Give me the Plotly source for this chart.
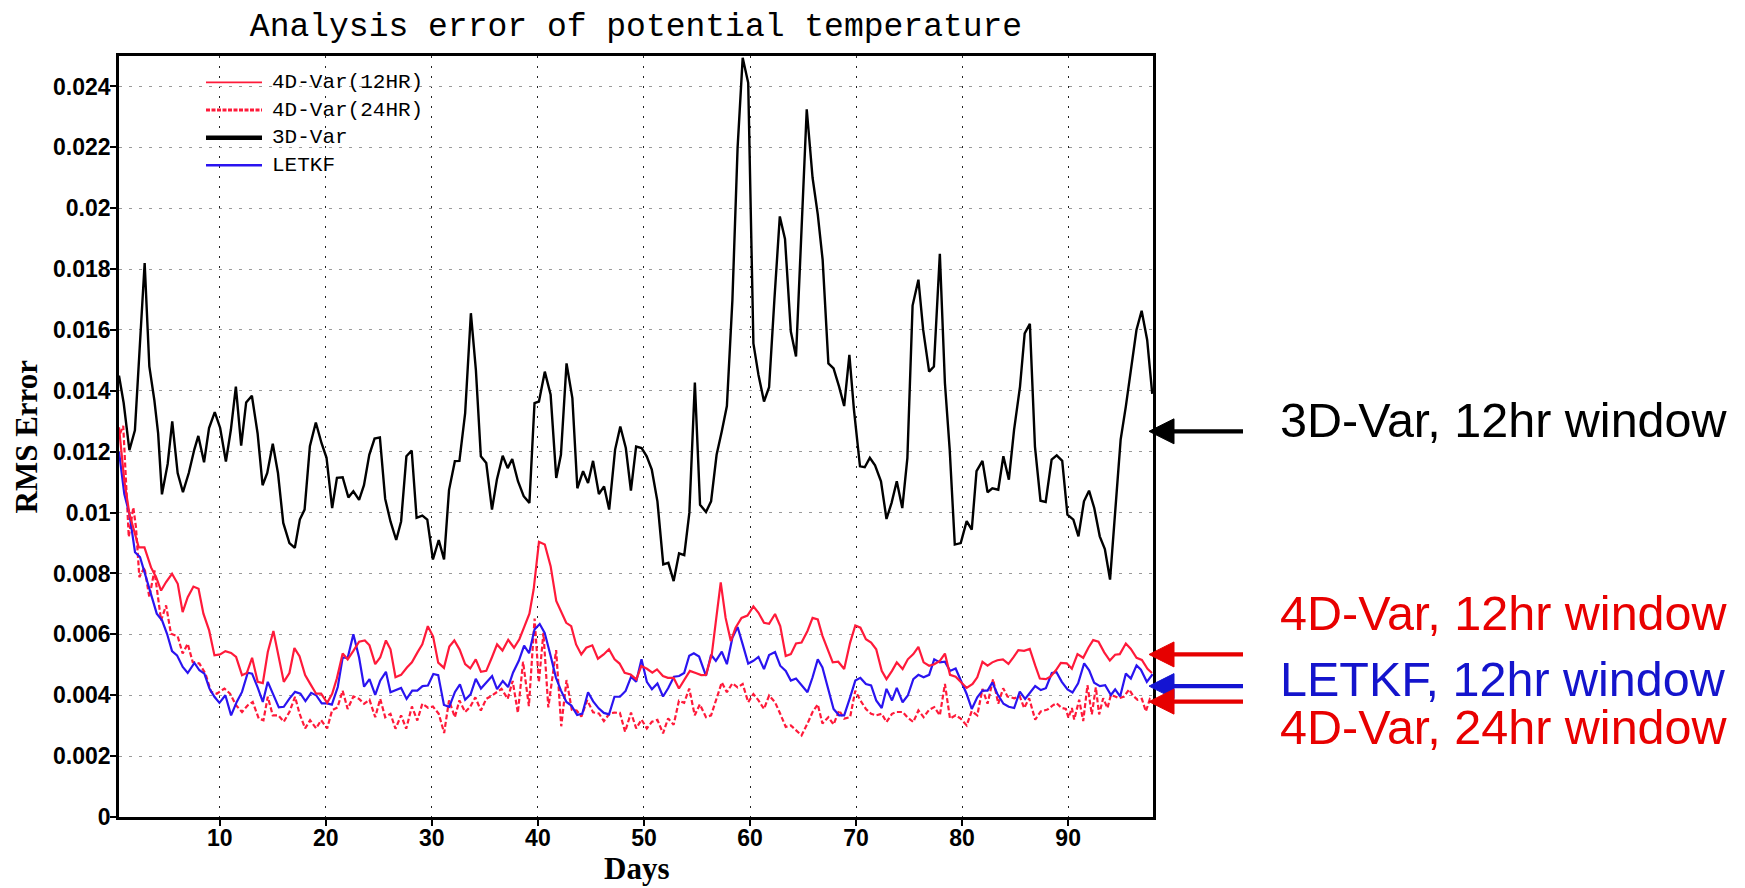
import plotly.graph_objects as go

# ---------------- data ----------------
title_text = "Analysis error of potential temperature"
x_label = "Days"
y_label = "RMS Error"

x_tick_vals = [10, 20, 30, 40, 50, 60, 70, 80, 90]
y_tick_vals = [0, 0.002, 0.004, 0.006, 0.008, 0.01, 0.012, 0.014, 0.016, 0.018, 0.02, 0.022, 0.024]
y_tick_text = ["0", "0.002", "0.004", "0.006", "0.008", "0.01", "0.012", "0.014",
               "0.016", "0.018", "0.02", "0.022", "0.024"]
x_range = [0.5, 98]
y_range = [0, 0.025]

var3d_days = [0.5, 0.94, 1.48, 2.0, 2.45, 2.92, 3.36, 3.83, 4.19, 4.55, 5.09, 5.52, 6.03, 6.53, 7.08,
              7.6, 7.98, 8.52, 8.99, 9.53, 10.04, 10.58, 11.05, 11.52, 12.02, 12.49, 13.03, 13.57,
              14.04, 14.48, 15.0, 15.49, 15.99, 16.57, 17.08, 17.55, 18.0, 18.5, 19.06, 19.6, 20.07,
              20.6, 21.05, 21.59, 22.13, 22.6, 23.14, 23.6, 24.1, 24.6, 25.1, 25.6, 26.1, 26.64,
              27.1, 27.6, 28.1, 28.56, 29.1, 29.57, 30.1, 30.65, 31.15, 31.62, 32.17, 32.6, 33.14,
              33.68, 34.15, 34.62, 35.13, 35.67, 36.14, 36.68, 37.15, 37.58, 38.12, 38.66, 39.2,
              39.68, 40.1, 40.65, 41.2, 41.73, 42.17, 42.7, 43.25, 43.72, 44.26, 44.73, 45.2, 45.75,
              46.24, 46.72, 47.28, 47.77, 48.29, 48.77, 49.26, 49.78, 50.26, 50.74, 51.27, 51.82,
              52.3, 52.8, 53.31, 53.8, 54.28, 54.8, 55.29, 55.85, 56.33, 56.85, 57.34, 57.82, 58.34,
              58.83, 59.31, 59.83, 60.32, 60.8, 61.32, 61.8, 62.3, 62.81, 63.3, 63.85, 64.34, 65.35,
              65.9, 66.39, 66.85, 67.39, 67.88, 68.4, 68.88, 69.37, 69.8, 70.37, 70.82, 71.3, 71.79,
              72.35, 72.87, 73.35, 73.84, 74.36, 74.84, 75.33, 75.88, 76.33, 76.89, 77.34, 77.9,
              78.38, 78.83, 79.31, 79.87, 80.43, 80.91, 81.36, 81.92, 82.4, 82.85, 83.41, 83.89,
              84.41, 84.9, 85.46, 85.9, 86.39, 86.87, 87.39, 87.88, 88.44, 88.92, 89.44, 89.93,
              90.49, 90.97, 91.49, 91.97, 92.46, 92.98, 93.46, 93.95, 94.47, 94.95, 95.44, 95.96,
              96.44, 96.93, 97.45, 97.93]
var3d_rms = [0.0145, 0.0136, 0.01205, 0.0127, 0.0154, 0.0182, 0.0148, 0.0137, 0.0126, 0.0106,
             0.0116, 0.0130, 0.0113, 0.01067, 0.0113, 0.01207, 0.01252, 0.01165, 0.01278, 0.0133,
             0.01278, 0.01168, 0.01272, 0.01414, 0.0122, 0.01362, 0.01384, 0.0126, 0.0109, 0.0113,
             0.01226, 0.0113, 0.00966, 0.0090, 0.00884, 0.00977, 0.0101, 0.01218, 0.01296, 0.01228,
             0.0118, 0.01015, 0.01114, 0.01116, 0.0105, 0.0107, 0.01042, 0.0109, 0.0119, 0.01243,
             0.01247, 0.01045, 0.00971, 0.0091, 0.00971, 0.01185, 0.01204, 0.00983, 0.0099, 0.00977,
             0.00846, 0.0091, 0.00846, 0.01074, 0.01169, 0.0117, 0.01327, 0.01655, 0.0147, 0.01185,
             0.01163, 0.0101, 0.0111, 0.01187, 0.01146, 0.01176, 0.01103, 0.01054, 0.01032, 0.0136,
             0.01365, 0.01463, 0.01387, 0.01114, 0.0119, 0.0149, 0.01376, 0.0108, 0.01136, 0.01097,
             0.0117, 0.01061, 0.01086, 0.0101, 0.01207, 0.01283, 0.01212, 0.01072, 0.01217, 0.01212,
             0.01185, 0.01141, 0.01037, 0.0083, 0.00835, 0.00775, 0.00866, 0.0086, 0.00999, 0.01427,
             0.01026, 0.01002, 0.01037, 0.0119, 0.01267, 0.0135, 0.01698, 0.02199, 0.02494, 0.02412,
             0.01556, 0.01452, 0.01365, 0.01412, 0.0170, 0.01973, 0.01899, 0.01595, 0.01513, 0.02325,
             0.0210, 0.0198, 0.0183, 0.0149, 0.01474, 0.01414, 0.0135, 0.01518, 0.01338, 0.01152,
             0.01149, 0.0118, 0.01155, 0.01103, 0.00979, 0.01032, 0.01103, 0.01015, 0.0118, 0.0168,
             0.01765, 0.0160, 0.01463, 0.0148, 0.0185, 0.01425, 0.01207, 0.00895, 0.0090, 0.00972,
             0.00944, 0.01136, 0.0117, 0.01067, 0.0108, 0.01075, 0.01185, 0.01108, 0.01272, 0.01414,
             0.01589, 0.0162, 0.01217, 0.01039, 0.01035, 0.01174, 0.01188, 0.0117, 0.00993, 0.00977,
             0.00922, 0.01037, 0.01072, 0.01015, 0.00922, 0.0088, 0.0078, 0.0101, 0.0124, 0.01349,
             0.0148, 0.0160, 0.01663, 0.01567, 0.0139]

var4d12_days = [0.5, 1.0, 1.48, 1.95, 2.36, 2.9, 3.52, 4.0, 4.47, 4.94, 5.5, 6.04, 6.5, 6.98, 7.52,
                8.0, 8.46, 9.0, 9.5, 10.03, 10.53, 11.07, 11.54, 12.1, 12.55, 13.05, 13.58, 14.06,
                14.53, 15.06, 15.53, 16.04, 16.57, 17.04, 17.52, 18.05, 18.52, 19.09, 19.56, 20.13,
                20.6, 21.04, 21.59, 22.06, 22.6, 23.14, 23.68, 24.12, 24.66, 25.13, 25.67, 26.1,
                26.57, 27.1, 27.65, 28.12, 28.63, 29.1, 29.62, 30.12, 30.6, 31.14, 31.65, 32.12,
                32.62, 33.14, 33.62, 34.14, 34.63, 35.13, 35.65, 36.15, 36.66, 37.2, 37.75, 38.25,
                38.74, 39.2, 39.6, 40.1, 40.65, 41.2, 41.73, 42.2, 42.67, 43.14, 43.6, 44.09, 44.56,
                45.13, 45.66, 46.2, 46.7, 47.23, 47.7, 48.18, 48.74, 49.28, 49.75, 50.28, 50.79,
                51.23, 51.79, 52.26, 52.8, 53.3, 53.8, 54.33, 54.88, 55.4, 55.85, 56.4, 56.78, 57.24,
                57.7, 58.19, 58.64, 59.2, 59.76, 60.32, 60.8, 61.32, 61.8, 62.36, 62.85, 63.37, 63.85,
                64.34, 64.86, 65.42, 65.9, 66.39, 66.83, 67.32, 67.8, 68.32, 68.88, 69.44, 69.93,
                70.41, 70.93, 71.42, 71.9, 72.42, 72.87, 73.39, 73.84, 74.39, 74.88, 75.4, 75.88,
                76.37, 76.89, 77.37, 77.9, 78.38, 78.86, 79.39, 79.87, 80.43, 80.99, 81.43, 81.92,
                82.4, 82.85, 83.33, 83.85, 84.37, 84.85, 85.3, 85.85, 86.38, 86.89, 87.33, 87.9,
                88.36, 88.84, 89.31, 89.87, 90.35, 90.88, 91.42, 91.92, 92.36, 92.86, 93.4, 93.93,
                94.43, 94.87, 95.44, 95.91, 96.45, 96.95, 97.48, 97.9]
var4d12_rms = [0.0128, 0.01105, 0.00996, 0.0094, 0.00886, 0.00886, 0.0082, 0.00788, 0.00744,
               0.00772, 0.00799, 0.00766, 0.00673, 0.00722, 0.00757, 0.0075, 0.00668, 0.00613,
               0.00531, 0.00534, 0.00545, 0.00539, 0.00526, 0.00466, 0.00473, 0.00523, 0.00444,
               0.0044, 0.00542, 0.00611, 0.00526, 0.00444, 0.00473, 0.00555, 0.00528, 0.00466,
               0.00438, 0.00405, 0.00405, 0.00375, 0.00405, 0.00455, 0.00537, 0.00518, 0.00546,
               0.00576, 0.0058, 0.00564, 0.00502, 0.00524, 0.0058, 0.00551, 0.00459, 0.00467,
               0.00491, 0.00508, 0.0054, 0.00567, 0.00627, 0.00593, 0.00507, 0.0049, 0.0056, 0.0058,
               0.0055, 0.00502, 0.00488, 0.00518, 0.00477, 0.0048, 0.00523, 0.00567, 0.00547,
               0.00582, 0.00556, 0.00584, 0.00627, 0.00668, 0.00748, 0.00904, 0.00895, 0.00824,
               0.0071, 0.00671, 0.00638, 0.00627, 0.00567, 0.00534, 0.00556, 0.00564, 0.0052,
               0.00534, 0.00551, 0.00518, 0.00504, 0.00474, 0.00468, 0.00452, 0.00496, 0.00487,
               0.00474, 0.00485, 0.00463, 0.00457, 0.00457, 0.00422, 0.0045, 0.0048, 0.00473,
               0.00466, 0.00467, 0.00535, 0.00643, 0.00771, 0.00654, 0.00578, 0.00622, 0.00654,
               0.00662, 0.00692, 0.00671, 0.00638, 0.00635, 0.00667, 0.00627, 0.00529, 0.00535,
               0.0057, 0.00573, 0.00611, 0.00654, 0.00649, 0.00595, 0.00551, 0.00508, 0.0051,
               0.00486, 0.00573, 0.00629, 0.00622, 0.00584, 0.00573, 0.00551, 0.0048, 0.00453,
               0.0048, 0.00508, 0.00486, 0.00518, 0.00535, 0.00559, 0.00508, 0.00497, 0.00502,
               0.00513, 0.00537, 0.00467, 0.00461, 0.00445, 0.00424, 0.00437, 0.00459, 0.0051,
               0.00497, 0.00508, 0.00515, 0.00518, 0.00503, 0.00525, 0.00548, 0.00546, 0.00552,
               0.00498, 0.00455, 0.00453, 0.00462, 0.00482, 0.00506, 0.00505, 0.00487, 0.00535,
               0.00523, 0.00557, 0.00581, 0.00576, 0.00541, 0.00514, 0.00533, 0.00535, 0.0057,
               0.00552, 0.00523, 0.00516, 0.00487, 0.00473]

var4d24_days = [0.6, 0.9, 1.42, 1.85, 2.1, 2.42, 2.9, 3.36, 3.84, 4.47, 4.94, 5.4, 6.04, 6.5, 6.98,
                7.45, 8.08, 8.65, 9.18, 9.72, 10.44, 10.97, 11.54, 12.1, 12.64, 13.11, 13.68, 14.12,
                14.53, 15.0, 15.53, 16.04, 16.57, 17.1, 17.52, 18.05, 18.52, 19.09, 19.56, 20.13,
                20.6, 21.1, 21.59, 22.06, 22.6, 23.14, 23.61, 24.12, 24.66, 25.13, 25.6, 26.1, 26.57,
                27.1, 27.58, 28.12, 28.63, 29.1, 29.64, 30.1, 30.65, 31.16, 31.62, 32.17, 32.6,
                33.14, 33.6, 34.1, 34.62, 35.13, 35.67, 36.14, 36.57, 37.15, 37.62, 38.11, 38.6,
                39.15, 39.69, 40.09, 40.52, 40.98, 41.72, 42.2, 42.7, 43.2, 43.65, 44.1, 44.65, 45.2,
                45.75, 46.22, 46.75, 47.22, 47.73, 48.22, 48.78, 49.27, 49.77, 50.27, 50.75, 51.27,
                51.8, 52.28, 52.8, 53.3, 53.79, 54.27, 54.79, 55.27, 55.85, 56.33, 56.85, 57.34,
                57.82, 58.34, 58.83, 59.31, 59.83, 60.32, 60.8, 61.32, 61.8, 62.36, 62.85, 63.37,
                63.85, 64.34, 64.86, 65.42, 65.9, 66.39, 66.83, 67.39, 67.88, 68.4, 68.88, 69.44,
                69.93, 70.41, 70.93, 71.42, 71.9, 72.42, 72.87, 73.39, 73.84, 74.39, 74.88, 75.4,
                75.88, 76.37, 76.89, 77.37, 77.9, 78.38, 78.86, 79.39, 79.87, 80.43, 80.91, 81.43,
                81.92, 82.4, 82.92, 83.41, 83.87, 84.28, 84.91, 85.44, 85.85, 86.32, 86.89, 87.42,
                88.05, 88.52, 88.9, 89.4, 89.78, 90.03, 90.35, 90.57, 91.04, 91.42, 91.82, 92.23,
                92.61, 92.92, 93.3, 93.71, 94.03, 94.43, 94.81, 95.28, 95.75, 96.13, 96.54, 96.95,
                97.33, 97.7, 97.95]
var4d24_rms = [0.0126, 0.01285, 0.0092, 0.01017, 0.00952, 0.00788, 0.0082, 0.00722, 0.0081,
               0.00646, 0.00695, 0.00602, 0.00593, 0.00537, 0.00569, 0.00509, 0.00504, 0.00471,
               0.00411, 0.00405, 0.00422, 0.00405, 0.00367, 0.00345, 0.00367, 0.00378, 0.00323,
               0.00318, 0.00395, 0.00334, 0.00334, 0.00313, 0.00345, 0.00395, 0.0034, 0.00291,
               0.00318, 0.00291, 0.00318, 0.00291, 0.00351, 0.0036, 0.00415, 0.00355, 0.00396,
               0.00388, 0.00372, 0.00385, 0.00328, 0.00388, 0.00328, 0.00339, 0.0029, 0.00334,
               0.0029, 0.00363, 0.00317, 0.00372, 0.00359, 0.00363, 0.00339, 0.00276, 0.00383,
               0.00328, 0.00383, 0.00345, 0.00361, 0.00393, 0.0035, 0.00388, 0.00399, 0.0041,
               0.00421, 0.00388, 0.00447, 0.00342, 0.0051, 0.00364, 0.00652, 0.00442, 0.00605,
               0.0036, 0.00548, 0.00298, 0.0045, 0.00352, 0.0035, 0.0033, 0.00384, 0.00344, 0.0034,
               0.00315, 0.0034, 0.00343, 0.00342, 0.0028, 0.00343, 0.00291, 0.0032, 0.00291,
               0.00313, 0.00319, 0.00275, 0.00324, 0.00303, 0.00382, 0.00375, 0.00422, 0.00334,
               0.0037, 0.00328, 0.00334, 0.00393, 0.00442, 0.0041, 0.00439, 0.00426, 0.00437,
               0.00377, 0.00404, 0.00383, 0.00355, 0.00399, 0.00377, 0.00339, 0.00296, 0.00301,
               0.00285, 0.00268, 0.00307, 0.00345, 0.0037, 0.00307, 0.00328, 0.00304, 0.0035,
               0.00323, 0.00328, 0.00415, 0.00383, 0.00355, 0.00339, 0.00334, 0.00339, 0.00312,
               0.00339, 0.00345, 0.00345, 0.00326, 0.00312, 0.0035, 0.00328, 0.00352, 0.00361,
               0.00334, 0.00437, 0.00323, 0.00334, 0.00323, 0.00301, 0.00348, 0.00334, 0.00421,
               0.00372, 0.00453, 0.00372, 0.00423, 0.00396, 0.0039, 0.00396, 0.00358, 0.0039,
               0.0032, 0.00347, 0.00353, 0.00366, 0.00374, 0.00358, 0.00355, 0.00326, 0.00358,
               0.0032, 0.00385, 0.00315, 0.00433, 0.00337, 0.00426, 0.00337, 0.0039, 0.00358,
               0.00401, 0.00396, 0.0039, 0.00396, 0.00419, 0.00398, 0.00385, 0.00388, 0.00347,
               0.00387, 0.0038]

letkf_days = [0.5, 1.0, 1.48, 2.01, 2.48, 3.05, 3.58, 4.06, 4.56, 5.03, 5.5, 5.97, 6.51, 6.98,
              7.61, 8.08, 8.55, 9.03, 9.5, 9.97, 10.53, 11.07, 11.6, 12.1, 12.64, 13.05, 13.58,
              14.06, 14.53, 15.06, 15.57, 16.04, 16.57, 17.1, 17.61, 18.08, 18.62, 19.09, 19.62,
              20.13, 20.57, 21.13, 21.59, 22.06, 22.6, 23.14, 23.61, 24.12, 24.66, 25.13, 25.67,
              26.1, 26.57, 27.1, 27.62, 28.15, 28.63, 29.12, 29.63, 30.14, 30.6, 31.14, 31.64,
              32.18, 32.65, 33.14, 33.65, 34.14, 34.63, 35.16, 35.68, 36.15, 36.69, 37.19, 37.66,
              38.2, 38.7, 39.17, 39.68, 40.17, 40.64, 41.18, 41.7, 42.17, 42.69, 43.16, 43.7, 44.19,
              44.73, 45.21, 45.73, 46.22, 46.71, 47.22, 47.73, 48.27, 48.79, 49.27, 49.77, 50.27,
              50.75, 51.27, 51.8, 52.28, 52.83, 53.32, 53.79, 54.27, 54.7, 55.2, 55.85, 56.33,
              56.78, 57.34, 57.82, 58.34, 58.83, 59.31, 59.83, 60.32, 60.8, 61.32, 61.8, 62.36,
              62.85, 63.37, 63.85, 64.34, 64.86, 65.42, 65.9, 66.39, 66.83, 67.39, 67.88, 68.4,
              68.88, 69.44, 69.93, 70.41, 70.93, 71.42, 71.9, 72.42, 72.87, 73.39, 73.84, 74.39,
              74.88, 75.4, 75.88, 76.37, 76.89, 77.37, 77.9, 78.38, 78.86, 79.39, 79.87, 80.43,
              80.91, 81.43, 81.92, 82.4, 82.85, 83.33, 83.9, 84.4, 84.91, 85.44, 85.94, 86.4, 86.89,
              87.42, 87.9, 88.46, 88.9, 89.4, 89.94, 90.41, 90.94, 91.51, 91.98, 92.45, 92.99,
              93.49, 94.03, 94.43, 94.9, 95.44, 95.91, 96.45, 96.86, 97.42, 97.96]
letkf_rms = [0.012, 0.01061, 0.00996, 0.0087, 0.00854, 0.00788, 0.00722, 0.00668, 0.00646,
             0.00602, 0.00545, 0.00531, 0.00493, 0.00473, 0.00506, 0.00482, 0.00471, 0.00422,
             0.00395, 0.00375, 0.004, 0.00334, 0.00378, 0.00411, 0.00474, 0.00471, 0.00425,
             0.00378, 0.00444, 0.004, 0.0036, 0.00362, 0.00389, 0.00411, 0.00405, 0.00381, 0.00408,
             0.004, 0.00373, 0.00373, 0.00369, 0.00427, 0.00524, 0.00522, 0.006, 0.00524, 0.00428,
             0.00453, 0.00401, 0.00448, 0.00477, 0.0041, 0.00417, 0.00424, 0.00388, 0.00415,
             0.00415, 0.0043, 0.00432, 0.0047, 0.00466, 0.00368, 0.00362, 0.00411, 0.00436,
             0.00385, 0.00403, 0.00454, 0.00422, 0.00444, 0.00463, 0.0042, 0.00447, 0.00427,
             0.00475, 0.00513, 0.00563, 0.00538, 0.00616, 0.00634, 0.00605, 0.00532, 0.00458,
             0.00416, 0.00378, 0.00366, 0.00335, 0.0034, 0.0041, 0.0038, 0.00357, 0.00342, 0.00337,
             0.00395, 0.00395, 0.00414, 0.00461, 0.00444, 0.00518, 0.00444, 0.0042, 0.00439,
             0.00396, 0.00423, 0.00461, 0.00463, 0.00473, 0.0053, 0.00538, 0.00527, 0.00464,
             0.00533, 0.00513, 0.00543, 0.00502, 0.00589, 0.00624, 0.00567, 0.00504, 0.00513,
             0.00526, 0.00486, 0.00532, 0.00542, 0.00497, 0.0048, 0.00448, 0.00455, 0.00432,
             0.0041, 0.00459, 0.00518, 0.00491, 0.00421, 0.00355, 0.00334, 0.00334, 0.00393,
             0.00448, 0.00457, 0.00437, 0.00432, 0.00383, 0.00358, 0.00421, 0.00383, 0.00424,
             0.00377, 0.00399, 0.00453, 0.00467, 0.00459, 0.00467, 0.00518, 0.00508, 0.0051,
             0.0048, 0.00488, 0.00448, 0.00404, 0.00355, 0.00393, 0.00415, 0.00415, 0.00442,
             0.00404, 0.00372, 0.00362, 0.00358, 0.00412, 0.00388, 0.0041, 0.0043, 0.00417,
             0.00423, 0.00473, 0.00476, 0.00444, 0.00419, 0.00409, 0.00439, 0.00505, 0.00482,
             0.00441, 0.0043, 0.00433, 0.00401, 0.00419, 0.00396, 0.00471, 0.00455, 0.00498,
             0.00484, 0.00444, 0.00469]

series_names = ["4D-Var(12HR)", "4D-Var(24HR)", "3D-Var", "LETKF"]

# right-hand callouts: label text and the RMS level each arrow points at
callout_texts = ["3D-Var, 12hr window", "4D-Var, 12hr window", "LETKF, 12hr window",
                 "4D-Var, 24hr window"]
arrow_levels = [0.01267, 0.00534, 0.0043, 0.00379]

# ---------------- styling ----------------
RED = "#FF1A3A"
BLUE = "#2A14F0"
BLACK = "#000000"
TXT_RED = "#E80000"
TXT_BLUE = "#1414CC"

W, H = 1745, 888
M_L, M_R, M_T, M_B = 119, 592, 56, 71
PLOT_W = W - M_L - M_R
PLOT_H = H - M_T - M_B

fig = go.Figure()

fig.add_trace(go.Scatter(x=var3d_days, y=var3d_rms, mode="lines", name=series_names[2],
                         line=dict(color=BLACK, width=2.4)))
fig.add_trace(go.Scatter(x=var4d24_days, y=var4d24_rms, mode="lines", name=series_names[1],
                         line=dict(color=RED, width=2.2, dash="5px,2.5px")))
fig.add_trace(go.Scatter(x=letkf_days, y=letkf_rms, mode="lines", name=series_names[3],
                         line=dict(color=BLUE, width=2.2)))
fig.add_trace(go.Scatter(x=var4d12_days, y=var4d12_rms, mode="lines", name=series_names[0],
                         line=dict(color=RED, width=2.2)))

shapes = []
annotations = []

# hand-built legend in the upper-left corner of the plot
legend_styles = [
    dict(color=RED, width=1.8),
    dict(color=RED, width=3, dash="4px,1.5px"),
    dict(color=BLACK, width=4.5),
    dict(color=BLUE, width=2.6),
]
legend_rows_px = [82.3, 110.0, 137.7, 165.3]
leg_x0 = (206 - M_L) / PLOT_W
leg_x1 = (262 - M_L) / PLOT_W
leg_tx = (270 - M_L) / PLOT_W
for name, style, row in zip(series_names, legend_styles, legend_rows_px):
    yp = (H - M_B - row) / PLOT_H
    shapes.append(dict(type="line", xref="paper", yref="paper", x0=leg_x0, x1=leg_x1,
                       y0=yp, y1=yp, line=style))
    annotations.append(dict(text=name, xref="paper", yref="paper", x=leg_tx, y=yp,
                            xanchor="left", yanchor="middle", showarrow=False,
                            font=dict(family="Liberation Mono", size=21, color=BLACK)))

# arrows pointing at the right edge of the plot, with labels
arrow_colors = [BLACK, "#E60000", "#1414D2", "#E60000"]
label_colors = [BLACK, TXT_RED, TXT_BLUE, TXT_RED]
label_rows_px = [420, 612.5, 679, 727]
tip_x = (1149 - M_L) / PLOT_W
head_x = (1174 - M_L) / PLOT_W
tail_x = (1243 - M_L) / PLOT_W
head_half = 12.5 / PLOT_H * (y_range[1] - y_range[0])
label_x = (1278 - M_L) / PLOT_W
for level, acol, text, tcol, row in zip(arrow_levels, arrow_colors, callout_texts,
                                        label_colors, label_rows_px):
    shapes.append(dict(type="line", xref="paper", yref="y", x0=head_x - 0.002, x1=tail_x,
                       y0=level, y1=level, line=dict(color=acol, width=4.2)))
    shapes.append(dict(type="path", xref="paper", yref="y",
                       path=f"M {tip_x},{level} L {head_x},{level + head_half} "
                            f"L {head_x},{level - head_half} Z",
                       fillcolor=acol, line=dict(color=acol, width=1)))
    annotations.append(dict(text=text, xref="paper", yref="paper", x=label_x,
                            y=(H - M_B - row) / PLOT_H, xanchor="left", yanchor="middle",
                            showarrow=False,
                            font=dict(family="Liberation Sans", size=48.5, color=tcol)))

# axis titles
annotations.append(dict(text=x_label, xref="paper", yref="paper", x=0.5,
                        y=(H - M_B - 868) / PLOT_H, xanchor="center", yanchor="middle",
                        showarrow=False,
                        font=dict(family="Liberation Serif", size=31, color=BLACK, weight="bold")))
annotations.append(dict(text=y_label, xref="paper", yref="paper", x=(26 - M_L) / PLOT_W,
                        y=0.5, xanchor="center", yanchor="middle", textangle=-90,
                        showarrow=False,
                        font=dict(family="Liberation Serif", size=31, color=BLACK, weight="bold")))

fig.update_layout(
    width=W, height=H,
    margin=dict(l=M_L, r=M_R, t=M_T, b=M_B, pad=0),
    paper_bgcolor="white", plot_bgcolor="white",
    showlegend=False,
    title=dict(text=title_text, x=0.5, xref="paper", xanchor="center",
               y=1 - 24 / H, yref="container", yanchor="middle",
               font=dict(family="Liberation Mono", size=33, color=BLACK)),
    shapes=shapes,
    annotations=annotations,
)

fig.update_xaxes(
    range=x_range, tickmode="array", tickvals=x_tick_vals,
    ticks="outside", ticklen=6, tickwidth=2, tickcolor=BLACK, ticklabelstandoff=-7,
    tickfont=dict(family="Liberation Sans", size=23, color=BLACK, weight="bold"),
    showline=True, linewidth=2.6, linecolor=BLACK, mirror=True,
    showgrid=True, gridcolor="#222222", gridwidth=1.4, griddash="2px,8px",
    zeroline=False,
)
fig.update_yaxes(
    range=y_range, tickmode="array", tickvals=y_tick_vals, ticktext=y_tick_text,
    ticks="outside", ticklen=6, tickwidth=2, tickcolor=BLACK, ticklabelstandoff=-5,
    tickfont=dict(family="Liberation Sans", size=23, color=BLACK, weight="bold"),
    showline=True, linewidth=2.6, linecolor=BLACK, mirror=True,
    showgrid=True, gridcolor="#9a9a9a", gridwidth=1, griddash="3px,7px",
    zeroline=False,
)

fig.write_html("out.html")
